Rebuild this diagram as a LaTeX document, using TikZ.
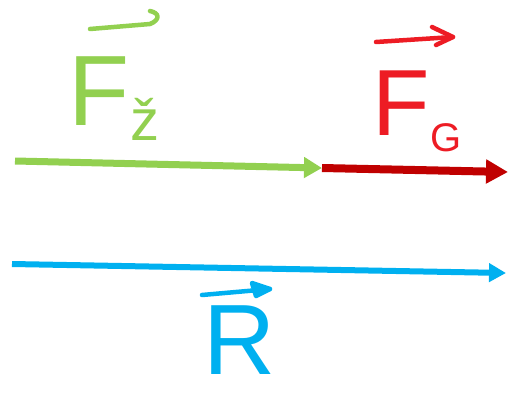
\documentclass[tikz,border=0pt]{standalone}
\usepackage{fontspec}
\setmainfont{Liberation Sans}
\usetikzlibrary{arrows.meta}
\definecolor{fgreen}{RGB}{146,208,80}
\definecolor{fred}{RGB}{192,0,0}
\definecolor{tred}{RGB}{237,28,36}
\definecolor{fblue}{RGB}{0,176,240}
\tikzset{
  force/.style={line width=#1, line cap=butt},
  lbl/.style={inner sep=0pt, anchor=base west},
  overarrow/.style={line width=4.5pt, line cap=round, line join=round}
}
\begin{document}
\begin{tikzpicture}[x=1pt,y=-1pt]
\useasboundingbox (0,0) rectangle (508,399);
% anchors of forces
\coordinate (gs) at (15,161);
\coordinate (j) at (322,168);
\coordinate (re) at (508,172);
\coordinate (bs) at (12,264);
\coordinate (be) at (506,273);
% forces
\draw[force=7pt, fgreen, -{Triangle[length=18pt,width=20pt]}] (gs) -- (j);
\draw[force=8pt, fred, -{Triangle[length=22pt,width=23pt]}] (j) -- (re);
\draw[force=6pt, fblue, -{Triangle[length=17pt,width=18pt]}] (bs) -- (be);
% green label
\node[lbl, text=fgreen, font=\fontsize{100}{100}\selectfont] (fz) at (68,125) {F};
\node[lbl, text=fgreen, font=\fontsize{58}{58}\selectfont] (zs) at (130,140) {ž};
\coordinate (ga1) at (90,29);
\coordinate (ga2) at (150,24);
\draw[overarrow, fgreen] (ga1) -- (ga2) .. controls (160,20) and (160,13) .. (150,11);
% red label
\node[lbl, text=tred, font=\fontsize{94}{94}\selectfont] (fg) at (372,135) {F};
\node[lbl, text=tred, font=\fontsize{40}{40}\selectfont] (gsub) at (430,151) {G};
\coordinate (ra1) at (376,42);
\coordinate (ra2) at (453,37);
\draw[overarrow, tred] (ra1) -- (ra2);
\draw[overarrow, tred] (432,27) -- (ra2) -- (436,45);
% blue label
\node[lbl, text=fblue, font=\fontsize{100}{100}\selectfont] (r) at (203,374) {R};
\coordinate (ba1) at (202,295);
\coordinate (ba2) at (270,289);
\draw[overarrow, fblue] (ba1) -- (ba2);
\draw[overarrow, fblue, fill=fblue] (252,283) -- (ba2) -- (256,296) -- cycle;
\end{tikzpicture}
\end{document}
